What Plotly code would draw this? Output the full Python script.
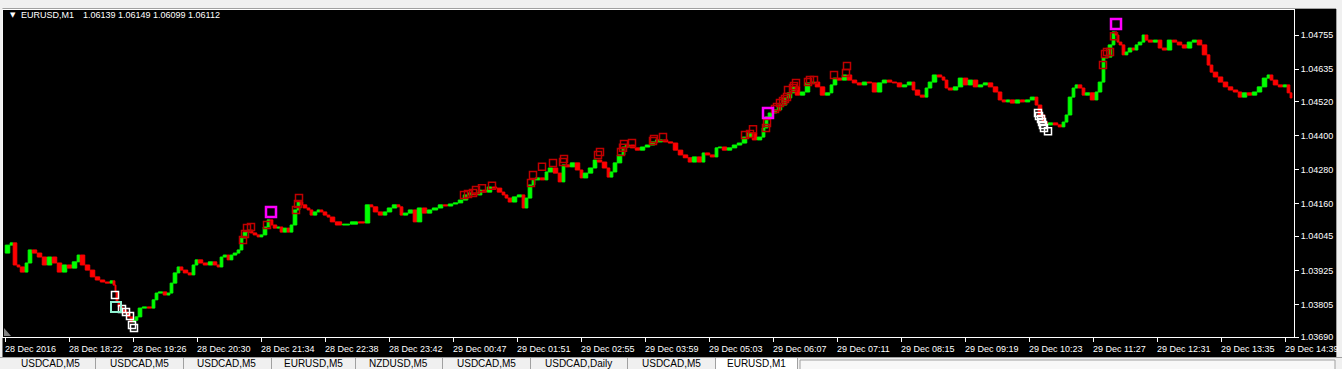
import plotly.graph_objects as go

# ---------------- data ----------------
# bar index (minutes since first bar) of sampled closes
minutes = [1, 6, 9, 13, 16, 21, 24, 28, 33, 38, 43, 48, 53, 58, 63, 68, 73, 76, 81, 86,
           91, 96, 101, 106, 109, 111, 112, 114, 116, 119, 123, 126, 129, 131, 134, 138, 143, 148, 151, 154,
           159, 163, 166, 169, 173, 176, 179, 184, 188, 191, 194, 199, 204, 209, 213, 216, 219, 223, 226, 229,
           233, 236, 239, 243, 246, 249, 253, 256, 259, 263, 266, 269, 273, 276, 279, 283, 286, 289, 293, 296,
           299, 303, 306, 309, 313, 316, 319, 323,
           326, 331, 338, 346, 354, 361, 366, 369, 374, 379, 383, 388, 393, 396, 399, 404, 409, 413, 418, 423,
           428, 434, 439, 444, 449, 454, 459, 464, 469, 474, 478, 483, 488, 493, 498, 501, 504, 508, 513, 518,
           521, 524, 528, 531, 536, 541, 544, 549, 554, 558, 561, 566, 571, 576, 579, 584, 589, 593, 598, 603,
           606, 609, 613, 618, 621, 626, 631, 636, 641, 646,
           651, 659, 664, 669, 674, 679, 684, 688, 693, 698, 701, 706, 711, 714, 718, 723, 728, 733, 738, 743,
           748, 753, 758, 761, 764, 768, 773, 778, 783, 788, 791, 796, 801, 806, 811, 816, 821, 826, 829, 833,
           838, 843, 848, 853, 858, 863, 868, 873, 878, 883, 888, 893, 898, 903, 908, 911, 916, 921, 924, 928,
           933, 938, 941, 944, 949, 954, 959, 964, 969,
           974, 979, 984, 989, 994, 998, 1002, 1006, 1011, 1016, 1021, 1026, 1031, 1034, 1038, 1041, 1044, 1049, 1054, 1058,
           1061, 1064, 1068, 1071, 1074, 1078, 1081, 1086, 1091, 1094, 1098, 1101, 1104, 1108, 1111, 1113, 1115, 1118, 1121, 1124,
           1128, 1131, 1134, 1138, 1141, 1144, 1149, 1154, 1158, 1163, 1168, 1173, 1178, 1183, 1188, 1193, 1198, 1203, 1206, 1209,
           1214, 1219, 1224, 1229, 1234, 1238, 1243, 1248, 1253, 1258, 1263, 1266, 1269, 1274, 1279, 1283, 1286, 1288]

closes = [1.03986, 1.04014, 1.04022, 1.03944, 1.03937, 1.03919, 1.03951, 1.03997, 1.03986, 1.03972,
          1.03944, 1.03972, 1.03951, 1.03919, 1.03944, 1.03933, 1.03955, 1.03979, 1.03944, 1.03926,
          1.03902, 1.03891, 1.03884, 1.03880, 1.03888, 1.03873, 1.03849, 1.03813, 1.03796, 1.03785,
          1.03775, 1.03761, 1.03743, 1.03749, 1.03761, 1.03792, 1.03796, 1.03792, 1.03821, 1.03845,
          1.03849, 1.03838, 1.03845, 1.03880, 1.03916, 1.03937, 1.03926, 1.03916, 1.03909, 1.03944,
          1.03962, 1.03951, 1.03944, 1.03955, 1.03944, 1.03937, 1.03972, 1.03979, 1.03962, 1.03979,
          1.03986, 1.03997, 1.04039, 1.04060, 1.04067, 1.04057, 1.04050, 1.04043, 1.04050, 1.04078,
          1.04103, 1.04085, 1.04074, 1.04078, 1.04060, 1.04074, 1.04060, 1.04085, 1.04138, 1.04166,
          1.04156, 1.04145, 1.04138, 1.04120, 1.04131, 1.04138, 1.04131, 1.04120,
          1.04113, 1.04096, 1.04085, 1.04088, 1.04096, 1.04092, 1.04156, 1.04149, 1.04131, 1.04120,
          1.04131, 1.04145, 1.04156, 1.04149, 1.04120, 1.04127, 1.04138, 1.04096, 1.04145, 1.04127,
          1.04138, 1.04145, 1.04156, 1.04152, 1.04159, 1.04163, 1.04173, 1.04191, 1.04198, 1.04191,
          1.04208, 1.04201, 1.04219, 1.04215, 1.04201, 1.04191, 1.04180, 1.04166, 1.04184, 1.04191,
          1.04145, 1.04180, 1.04226, 1.04244, 1.04251, 1.04244, 1.04272, 1.04286, 1.04268, 1.04237,
          1.04297, 1.04290, 1.04304, 1.04279, 1.04251, 1.04268, 1.04286, 1.04314, 1.04307, 1.04286,
          1.04254, 1.04272, 1.04304, 1.04332, 1.04360, 1.04367, 1.04357, 1.04349, 1.04360, 1.04367,
          1.04378, 1.04385, 1.04378, 1.04374, 1.04349, 1.04332, 1.04322, 1.04307, 1.04325, 1.04307,
          1.04339, 1.04332, 1.04325, 1.04357, 1.04360, 1.04349, 1.04357, 1.04367, 1.04374, 1.04395,
          1.04410, 1.04385, 1.04395, 1.04427, 1.04466, 1.04480, 1.04491, 1.04508, 1.04533, 1.04551,
          1.04572, 1.04543, 1.04554, 1.04586, 1.04589, 1.04572, 1.04543, 1.04551, 1.04579, 1.04603,
          1.04596, 1.04614, 1.04596, 1.04586, 1.04579, 1.04589, 1.04586, 1.04554, 1.04586, 1.04596,
          1.04589, 1.04586, 1.04572, 1.04579, 1.04589, 1.04561, 1.04543, 1.04536, 1.04568, 1.04589,
          1.04614, 1.04607, 1.04596, 1.04568, 1.04561, 1.04572, 1.04603, 1.04579, 1.04596,
          1.04572, 1.04579, 1.04586, 1.04572, 1.04554, 1.04526, 1.04519, 1.04526, 1.04515, 1.04526,
          1.04519, 1.04526, 1.04536, 1.04508, 1.04473, 1.04448, 1.04438, 1.04445, 1.04438, 1.04431,
          1.04448, 1.04473, 1.04536, 1.04568, 1.04579, 1.04568, 1.04543, 1.04551, 1.04526, 1.04554,
          1.04589, 1.04674, 1.04677, 1.04720, 1.04766, 1.04755, 1.04730, 1.04720, 1.04685, 1.04695,
          1.04709, 1.04702, 1.04720, 1.04730, 1.04755, 1.04737, 1.04730, 1.04737, 1.04709, 1.04702,
          1.04737, 1.04730, 1.04720, 1.04709, 1.04730, 1.04737, 1.04720, 1.04685, 1.04649, 1.04624,
          1.04607, 1.04589, 1.04572, 1.04561, 1.04554, 1.04536, 1.04551, 1.04543, 1.04554, 1.04572,
          1.04603, 1.04614, 1.04596, 1.04579, 1.04572, 1.04579, 1.04551, 1.04533]

# signal squares (bar index, price)
red_min = [239, 241, 243, 247, 263, 292, 294, 295, 460, 464, 469, 472, 478, 488, 527, 529, 538, 549,
           559, 560, 594, 596, 617, 619, 620, 628, 649, 650, 659, 741, 746, 749, 762, 763, 771, 773,
           776, 779, 781, 783, 784, 789, 790, 792, 804, 806, 810, 830, 842, 843, 1099, 1101, 1103, 1106, 1110]
red_px = [1.04032, 1.04053, 1.04074, 1.04078, 1.04085, 1.04138, 1.04159, 1.04180, 1.04191, 1.04194,
          1.04198, 1.04208, 1.04215, 1.04223, 1.04233, 1.04261, 1.04290, 1.04304, 1.04307, 1.04318,
          1.04332, 1.04342, 1.04342, 1.04357, 1.04371, 1.04374, 1.04381, 1.04388, 1.04395, 1.04402,
          1.04406, 1.04423, 1.04427, 1.04445, 1.04494, 1.04501, 1.04515, 1.04522, 1.04529, 1.04536,
          1.04561, 1.04568, 1.04575, 1.04586, 1.04589, 1.04596, 1.04596, 1.04614, 1.04621, 1.04646,
          1.04649, 1.04688, 1.04695, 1.04695, 1.04751]
mag_min = [267, 764, 1112]
mag_px = [1.04131, 1.04480, 1.04794]
white_min = [111, 118, 122, 126, 128, 130, 1034, 1035, 1037, 1038, 1039, 1040, 1044]
white_px = [1.03838, 1.03789, 1.03778, 1.03764, 1.03732, 1.03722, 1.04480, 1.04469, 1.04459, 1.04448,
            1.04438, 1.04427, 1.04416]
teal_min = [112]
teal_px = [1.03796]

price_ticks = [1.03690, 1.03805, 1.03925, 1.04045, 1.04160, 1.04280, 1.04400, 1.04520, 1.04635, 1.04755]
time_tick_min = [1, 65, 129, 193, 257, 321, 385, 449, 513, 577, 641, 705, 769, 833, 897, 961, 1025,
                 1089, 1153, 1217, 1281]
time_tick_lbl = ["28 Dec 2016", "28 Dec 18:22", "28 Dec 19:26", "28 Dec 20:30", "28 Dec 21:34",
                 "28 Dec 22:38", "28 Dec 23:42", "29 Dec 00:47", "29 Dec 01:51", "29 Dec 02:55",
                 "29 Dec 03:59", "29 Dec 05:03", "29 Dec 06:07", "29 Dec 07:11", "29 Dec 08:15",
                 "29 Dec 09:19", "29 Dec 10:23", "29 Dec 11:27", "29 Dec 12:31", "29 Dec 13:35",
                 "29 Dec 14:39"]
tabs = ["USDCAD,M5", "USDCAD,M5", "USDCAD,M5", "EURUSD,M5", "NZDUSD,M5", "USDCAD,M5",
        "USDCAD,Daily", "USDCAD,M5", "EURUSD,M1"]
header = "EURUSD,M1"
header_vals = "1.06139 1.06149 1.06099 1.06112"

# ---------------- layout geometry (pixels) ----------------
W, H = 1342, 369
L, R, T, B = 3, 1294, 10, 337
PW, PH = R - L, B - T

def px(x):
    return (x - L) / PW

def py(y):
    return (B - y) / PH

FONT = "Liberation Sans, Arial, sans-serif"
GREEN, RED = "#00ff00", "#ff0000"

# candles: open = previous close
bx, bbase, bh, bw, bcol = [], [], [], [], []
for i in range(1, len(closes)):
    o, c = closes[i - 1], closes[i]
    m0, m1 = minutes[i - 1], minutes[i]
    bx.append((m0 + m1) / 2)
    bw.append((m1 - m0) * 0.9)
    bbase.append(min(o, c))
    bh.append(max(abs(c - o), 0.000012))
    bcol.append(GREEN if c >= o else RED)

fig = go.Figure()
fig.add_trace(go.Bar(x=bx, y=bh, base=bbase, width=bw,
                     marker=dict(color=bcol, line=dict(color=bcol, width=1)),
                     hoverinfo="skip", showlegend=False))

def squares(xs, ys, color, size, lw):
    fig.add_trace(go.Scatter(x=xs, y=ys, mode="markers", hoverinfo="skip", showlegend=False,
                             marker=dict(symbol="square-open", size=size, color=color,
                                         line=dict(color=color, width=lw))))

squares(red_min, red_px, "#c00000", 7, 1.5)
squares(white_min, white_px, "#ffffff", 7, 1.5)
squares(teal_min, teal_px, "#90f0d0", 10, 2)
squares(mag_min, mag_px, "#ff00ff", 10, 2.5)

k = (1.04755 - 1.03690) / 302.0
y_bottom = 1.03690
y_top = y_bottom + PH * k

fig.update_layout(
    width=W, height=H,
    margin=dict(l=L, r=W - R, t=T, b=H - B, pad=0),
    paper_bgcolor="#000000", plot_bgcolor="#000000",
    bargap=0, showlegend=False, hovermode=False,
    font=dict(family=FONT, color="#ffffff", size=9),
    xaxis=dict(range=[-1, PW - 1], showgrid=False, zeroline=False,
               showline=True, linecolor="#ffffff", linewidth=1, mirror=True,
               ticks="outside", ticklen=4, tickcolor="#ffffff", tickwidth=1,
               tickvals=time_tick_min, showticklabels=False, fixedrange=True),
    yaxis=dict(range=[y_bottom, y_top], side="right", showgrid=False, zeroline=False,
               showline=True, linecolor="#ffffff", linewidth=1, mirror=True,
               ticks="outside", ticklen=4, tickcolor="#ffffff", tickwidth=1,
               tickvals=price_ticks, ticktext=[f"{v:.5f}" for v in price_ticks],
               tickfont=dict(family=FONT, size=9, color="#ffffff"), fixedrange=True),
)

shapes = []
def rect(x0, y0, x1, y1, fill, line=None, lw=0):
    shapes.append(dict(type="rect", xref="paper", yref="paper", x0=px(x0), x1=px(x1),
                       y0=py(y1), y1=py(y0), fillcolor=fill, layer="above",
                       line=dict(color=line or fill, width=lw)))

def hline(x0, x1, y, color):
    shapes.append(dict(type="line", xref="paper", yref="paper", x0=px(x0), x1=px(x1),
                       y0=py(y), y1=py(y), layer="above", line=dict(color=color, width=1)))

def vline(x, y0, y1, color):
    shapes.append(dict(type="line", xref="paper", yref="paper", x0=px(x), x1=px(x),
                       y0=py(y0), y1=py(y1), layer="above", line=dict(color=color, width=1)))

# window chrome
rect(0, 0, W, 9, "#f0f0f0")
hline(0, W, 8.5, "#a0a0a0")
rect(0, 0, 2.5, H, "#f0f0f0")
rect(1336, 0, W, H, "#f0f0f0")
vline(1336.5, 9, 357, "#a0a0a0")
rect(0, 357, W, H, "#f0f0f0")
hline(0, W, 357.5, "#a0a0a0")
seps = [95, 183, 271, 355, 442, 530, 627, 715, 797]
rect(715, 358, 797, H, "#ffffff")
rect(800, 360, 1335, H + 2, "#f8f8f8", "#a0a0a0", 1)
for s in seps:
    vline(s + 0.5, 358, H, "#a0a0a0")
# small gray shift marker at bottom-left
shapes.append(dict(type="path", xref="paper", yref="paper", layer="above",
                   path=f"M {px(4)},{py(336)} L {px(11)},{py(336)} L {px(4)},{py(328)} Z",
                   fillcolor="#808080", line=dict(width=0)))
fig.update_layout(shapes=shapes)

ann = []
for m, lbl in zip(time_tick_min, time_tick_lbl):
    ann.append(dict(x=m, y=0, xref="x", yref="paper", text=lbl, showarrow=False,
                    xanchor="left", yanchor="top", xshift=-2, yshift=-5,
                    font=dict(family=FONT, size=9, color="#ffffff")))
tab_edges = [5] + seps
for i, t in enumerate(tabs):
    cx = (tab_edges[i] + tab_edges[i + 1]) / 2
    ann.append(dict(x=px(cx), y=py(363.5), xref="paper", yref="paper", text=t, showarrow=False,
                    xanchor="center", yanchor="middle", borderpad=0,
                    font=dict(family=FONT, size=10, color="#000000")))
ann.append(dict(x=px(8), y=py(15), xref="paper", yref="paper", text="▼", showarrow=False,
                xanchor="left", yanchor="middle", font=dict(family="DejaVu Sans", size=7, color="#ffffff")))
ann.append(dict(x=px(19), y=py(15), xref="paper", yref="paper", text=header, showarrow=False,
                xanchor="left", yanchor="middle", font=dict(family=FONT, size=9, color="#ffffff")))
ann.append(dict(x=px(81), y=py(15), xref="paper", yref="paper", text=header_vals, showarrow=False,
                xanchor="left", yanchor="middle", font=dict(family=FONT, size=9, color="#ffffff")))
fig.update_layout(annotations=ann)

fig.write_html("out.html", config=dict(displayModeBar=False, staticPlot=True))
